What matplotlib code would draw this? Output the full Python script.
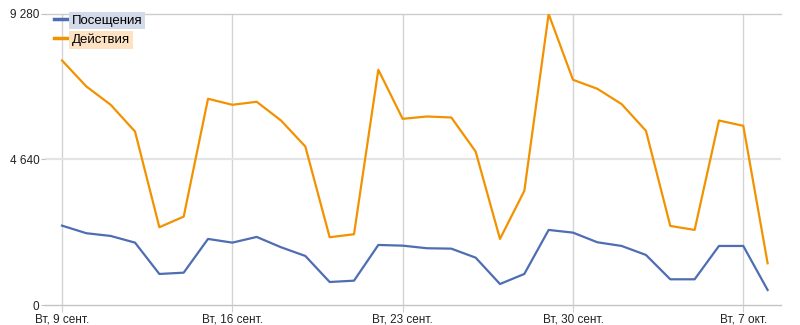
import matplotlib.pyplot as plt
import matplotlib.lines as mlines

# daily values, Tue 9 Sep .. Wed 8 Oct
days = list(range(30))
visits = [2531, 2289, 2202, 1989, 990, 1031, 2107, 1989, 2171, 1842,
          1564, 734, 776, 1915, 1893, 1810, 1797, 1510, 670, 990,
          2394, 2308, 2001, 1883, 1596, 820, 820, 1883, 1883, 479]
actions = [7798, 6968, 6384, 5532, 2480, 2819, 6576, 6384, 6480, 5883,
           5053, 2161, 2257, 7501, 5937, 6011, 5979, 4893, 2107, 3639,
           9280, 7182, 6895, 6406, 5554, 2522, 2394, 5883, 5714, 1331]
tick_pos = [0, 7, 14, 21, 28]
tick_labels = ["Вт, 9 сент.", "Вт, 16 сент.", "Вт, 23 сент.", "Вт, 30 сент.", "Вт, 7 окт."]
y_ticks = [0, 4640, 9280]
y_labels = ["0", "4 640", "9 280"]

blue = "#4e6db2"
orange = "#f39200"

plt.rcParams["font.family"] = ["Liberation Sans", "DejaVu Sans"]

fig = plt.figure(figsize=(8, 3.25), dpi=100)
ax = fig.add_axes([0.05625, 0.0615, 0.92, 0.8955])

ax.plot(days, visits, color=blue, lw=1.6, zorder=3)
ax.plot(days, actions, color=orange, lw=1.6, zorder=3)

ax.set_xlim(-0.7, 29.55)
ax.set_ylim(0, 9280)

ax.set_xticks(tick_pos)
ax.set_xticklabels(tick_labels, fontsize=8.5, color="#222222")
ax.set_yticks(y_ticks)
ax.set_yticklabels(y_labels, fontsize=8.5, color="#222222")
ax.tick_params(axis="x", length=5, color="#d0d0d0", pad=1)
ax.tick_params(axis="y", length=3, color="#c0c0c0", pad=1)

for s in ax.spines.values():
    s.set_visible(False)

for x in tick_pos:
    ax.axvline(x, color="#d4d4d4", lw=1, zorder=1)
ax.axhline(0, color="#c4c4c4", lw=1, zorder=1, clip_on=False)
ax.axhline(9280, color="#cccccc", lw=1, zorder=1, clip_on=False)
ax.axhline(4640, color="#e4e4e4", lw=1.6, zorder=1)

h1 = mlines.Line2D([], [], color=blue, lw=2.5)
h2 = mlines.Line2D([], [], color=orange, lw=2.5)
leg = ax.legend([h1, h2], ["Посещения", "Действия"], loc="upper left",
                bbox_to_anchor=(0.0, 1.03), frameon=False, fontsize=9.5,
                handlelength=1.1, handletextpad=0.25, labelspacing=0.5,
                borderaxespad=0.3)
for t, c in zip(leg.get_texts(), ["#d3dbea", "#fde3c4"]):
    t.set_bbox(dict(facecolor=c, edgecolor="none", pad=2))

plt.savefig("out.png", dpi=100)
